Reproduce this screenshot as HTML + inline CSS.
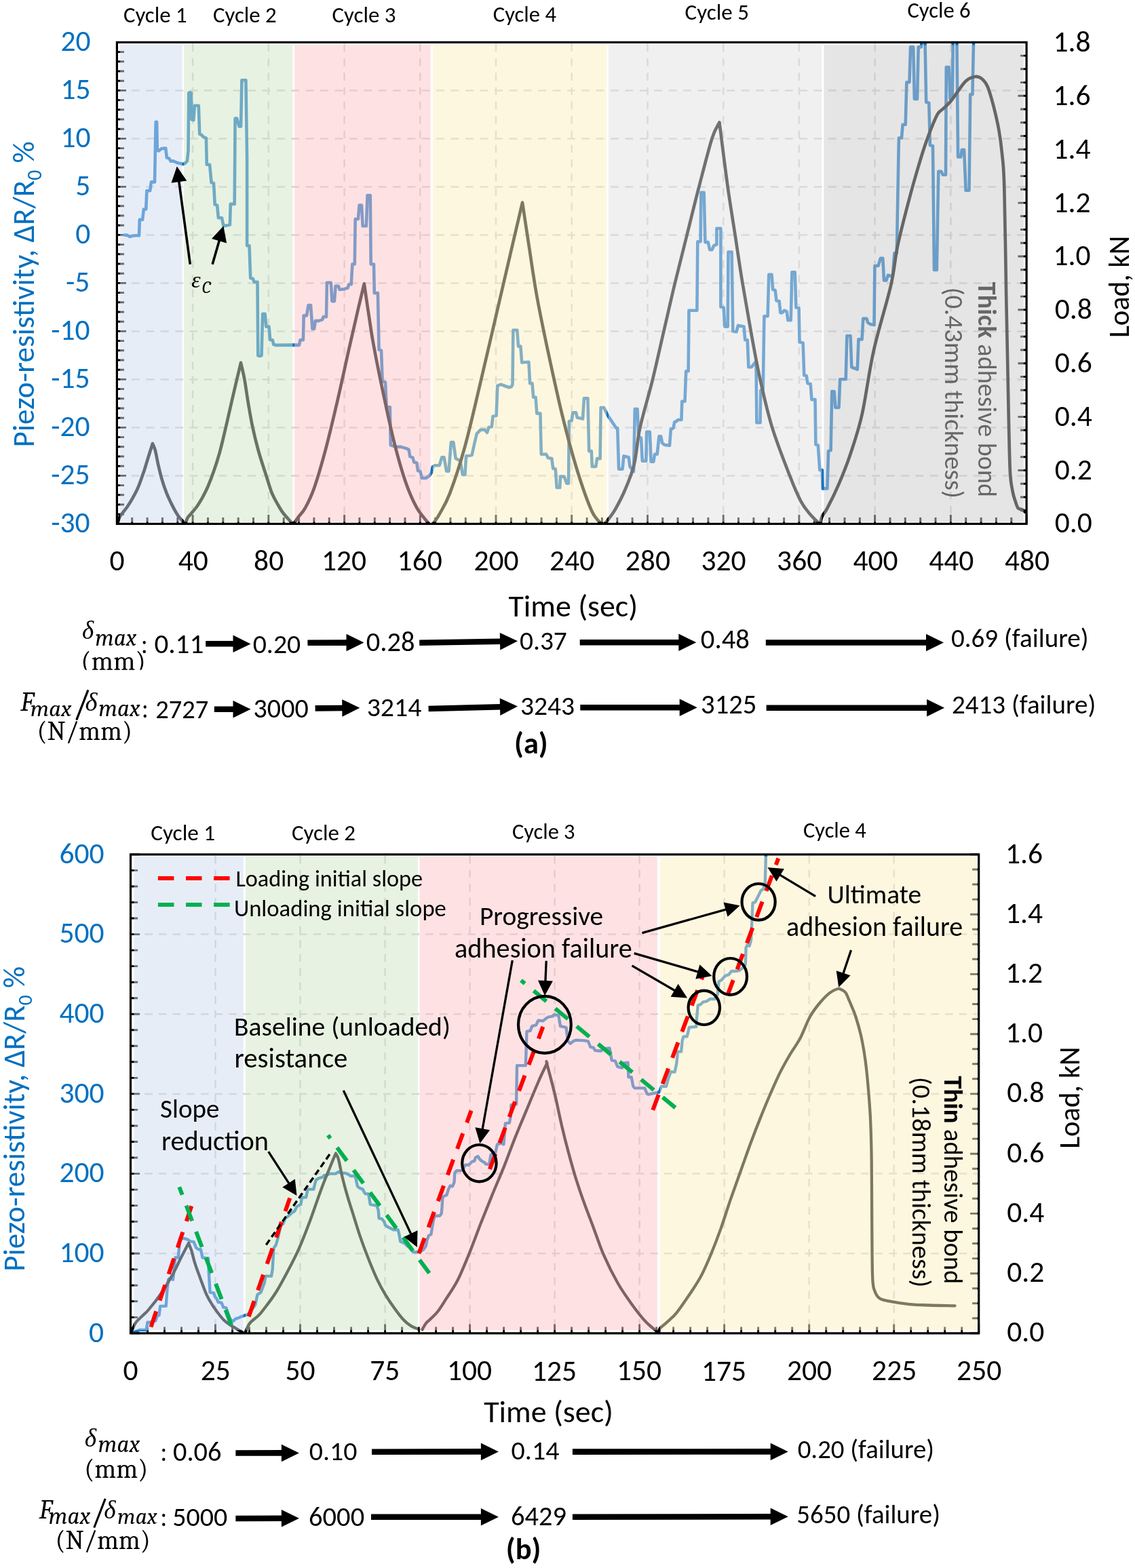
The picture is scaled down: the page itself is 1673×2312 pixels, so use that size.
<!DOCTYPE html>
<html><head><meta charset="utf-8"><title>Piezo-resistivity and load vs time</title>
<style>html,body{margin:0;padding:0;background:#fff;}svg{display:block;}</style></head>
<body>
<svg xmlns="http://www.w3.org/2000/svg" width="1673" height="2312" viewBox="0 0 1673 2312">
<rect width="1673" height="2312" fill="#fff"/>
<g id="chartA">
<clipPath id="clipA"><rect x="172.4" y="62.4" width="1340.7" height="710"/></clipPath>
<line x1="172.4" y1="133.4" x2="1513.1" y2="133.4" stroke="#D2D2D2" stroke-width="2.5" stroke-dasharray="12 9.4" stroke-dashoffset="0"/>
<line x1="172.4" y1="204.4" x2="1513.1" y2="204.4" stroke="#D2D2D2" stroke-width="2.5" stroke-dasharray="12 9.4" stroke-dashoffset="0"/>
<line x1="172.4" y1="275.4" x2="1513.1" y2="275.4" stroke="#D2D2D2" stroke-width="2.5" stroke-dasharray="12 9.4" stroke-dashoffset="0"/>
<line x1="172.4" y1="346.4" x2="1513.1" y2="346.4" stroke="#D2D2D2" stroke-width="2.5" stroke-dasharray="12 9.4" stroke-dashoffset="0"/>
<line x1="172.4" y1="417.4" x2="1513.1" y2="417.4" stroke="#D2D2D2" stroke-width="2.5" stroke-dasharray="12 9.4" stroke-dashoffset="0"/>
<line x1="172.4" y1="488.4" x2="1513.1" y2="488.4" stroke="#D2D2D2" stroke-width="2.5" stroke-dasharray="12 9.4" stroke-dashoffset="0"/>
<line x1="172.4" y1="559.4" x2="1513.1" y2="559.4" stroke="#D2D2D2" stroke-width="2.5" stroke-dasharray="12 9.4" stroke-dashoffset="0"/>
<line x1="172.4" y1="630.4" x2="1513.1" y2="630.4" stroke="#D2D2D2" stroke-width="2.5" stroke-dasharray="12 9.4" stroke-dashoffset="0"/>
<line x1="172.4" y1="701.4" x2="1513.1" y2="701.4" stroke="#D2D2D2" stroke-width="2.5" stroke-dasharray="12 9.4" stroke-dashoffset="0"/>
<line x1="284.1" y1="64.6" x2="284.1" y2="772.4" stroke="#D2D2D2" stroke-width="2.5" stroke-dasharray="11.5 9.8" stroke-dashoffset="0"/>
<line x1="395.8" y1="64.6" x2="395.8" y2="772.4" stroke="#D2D2D2" stroke-width="2.5" stroke-dasharray="11.5 9.8" stroke-dashoffset="0"/>
<line x1="507.6" y1="64.6" x2="507.6" y2="772.4" stroke="#D2D2D2" stroke-width="2.5" stroke-dasharray="11.5 9.8" stroke-dashoffset="0"/>
<line x1="619.3" y1="64.6" x2="619.3" y2="772.4" stroke="#D2D2D2" stroke-width="2.5" stroke-dasharray="11.5 9.8" stroke-dashoffset="0"/>
<line x1="731" y1="64.6" x2="731" y2="772.4" stroke="#D2D2D2" stroke-width="2.5" stroke-dasharray="11.5 9.8" stroke-dashoffset="0"/>
<line x1="842.7" y1="64.6" x2="842.7" y2="772.4" stroke="#D2D2D2" stroke-width="2.5" stroke-dasharray="11.5 9.8" stroke-dashoffset="0"/>
<line x1="954.5" y1="64.6" x2="954.5" y2="772.4" stroke="#D2D2D2" stroke-width="2.5" stroke-dasharray="11.5 9.8" stroke-dashoffset="0"/>
<line x1="1066.2" y1="64.6" x2="1066.2" y2="772.4" stroke="#D2D2D2" stroke-width="2.5" stroke-dasharray="11.5 9.8" stroke-dashoffset="0"/>
<line x1="1177.9" y1="64.6" x2="1177.9" y2="772.4" stroke="#D2D2D2" stroke-width="2.5" stroke-dasharray="11.5 9.8" stroke-dashoffset="0"/>
<line x1="1289.6" y1="64.6" x2="1289.6" y2="772.4" stroke="#D2D2D2" stroke-width="2.5" stroke-dasharray="11.5 9.8" stroke-dashoffset="0"/>
<line x1="1401.4" y1="64.6" x2="1401.4" y2="772.4" stroke="#D2D2D2" stroke-width="2.5" stroke-dasharray="11.5 9.8" stroke-dashoffset="0"/>
<path d="M172.4,62.4L186,62.4 M172.4,76.6L183,76.6 M172.4,90.8L183,90.8 M172.4,105L183,105 M172.4,119.2L183,119.2 M172.4,133.4L186,133.4 M172.4,147.6L183,147.6 M172.4,161.8L183,161.8 M172.4,176L183,176 M172.4,190.2L183,190.2 M172.4,204.4L186,204.4 M172.4,218.6L183,218.6 M172.4,232.8L183,232.8 M172.4,247L183,247 M172.4,261.2L183,261.2 M172.4,275.4L186,275.4 M172.4,289.6L183,289.6 M172.4,303.8L183,303.8 M172.4,318L183,318 M172.4,332.2L183,332.2 M172.4,346.4L186,346.4 M172.4,360.6L183,360.6 M172.4,374.8L183,374.8 M172.4,389L183,389 M172.4,403.2L183,403.2 M172.4,417.4L186,417.4 M172.4,431.6L183,431.6 M172.4,445.8L183,445.8 M172.4,460L183,460 M172.4,474.2L183,474.2 M172.4,488.4L186,488.4 M172.4,502.6L183,502.6 M172.4,516.8L183,516.8 M172.4,531L183,531 M172.4,545.2L183,545.2 M172.4,559.4L186,559.4 M172.4,573.6L183,573.6 M172.4,587.8L183,587.8 M172.4,602L183,602 M172.4,616.2L183,616.2 M172.4,630.4L186,630.4 M172.4,644.6L183,644.6 M172.4,658.8L183,658.8 M172.4,673L183,673 M172.4,687.2L183,687.2 M172.4,701.4L186,701.4 M172.4,715.6L183,715.6 M172.4,729.8L183,729.8 M172.4,744L183,744 M172.4,758.2L183,758.2 M172.4,772.4L186,772.4 M1513.1,772.4L1500.5,772.4 M1513.1,752.7L1504,752.7 M1513.1,733L1504,733 M1513.1,713.2L1504,713.2 M1513.1,693.5L1500.5,693.5 M1513.1,673.8L1504,673.8 M1513.1,654.1L1504,654.1 M1513.1,634.3L1504,634.3 M1513.1,614.6L1500.5,614.6 M1513.1,594.9L1504,594.9 M1513.1,575.2L1504,575.2 M1513.1,555.5L1504,555.5 M1513.1,535.7L1500.5,535.7 M1513.1,516L1504,516 M1513.1,496.3L1504,496.3 M1513.1,476.6L1504,476.6 M1513.1,456.8L1500.5,456.8 M1513.1,437.1L1504,437.1 M1513.1,417.4L1504,417.4 M1513.1,397.7L1504,397.7 M1513.1,378L1500.5,378 M1513.1,358.2L1504,358.2 M1513.1,338.5L1504,338.5 M1513.1,318.8L1504,318.8 M1513.1,299.1L1500.5,299.1 M1513.1,279.3L1504,279.3 M1513.1,259.6L1504,259.6 M1513.1,239.9L1504,239.9 M1513.1,220.2L1500.5,220.2 M1513.1,200.5L1504,200.5 M1513.1,180.7L1504,180.7 M1513.1,161L1504,161 M1513.1,141.3L1500.5,141.3 M1513.1,121.6L1504,121.6 M1513.1,101.8L1504,101.8 M1513.1,82.1L1504,82.1 M1513.1,62.4L1500.5,62.4 M172.4,772.4L172.4,759 M194.7,772.4L194.7,763 M217.1,772.4L217.1,763 M239.4,772.4L239.4,763 M261.8,772.4L261.8,763 M284.1,772.4L284.1,759 M306.5,772.4L306.5,763 M328.8,772.4L328.8,763 M351.2,772.4L351.2,763 M373.5,772.4L373.5,763 M395.8,772.4L395.8,759 M418.2,772.4L418.2,763 M440.5,772.4L440.5,763 M462.9,772.4L462.9,763 M485.2,772.4L485.2,763 M507.6,772.4L507.6,759 M529.9,772.4L529.9,763 M552.3,772.4L552.3,763 M574.6,772.4L574.6,763 M597,772.4L597,763 M619.3,772.4L619.3,759 M641.6,772.4L641.6,763 M664,772.4L664,763 M686.3,772.4L686.3,763 M708.7,772.4L708.7,763 M731,772.4L731,759 M753.4,772.4L753.4,763 M775.7,772.4L775.7,763 M798.1,772.4L798.1,763 M820.4,772.4L820.4,763 M842.7,772.4L842.7,759 M865.1,772.4L865.1,763 M887.4,772.4L887.4,763 M909.8,772.4L909.8,763 M932.1,772.4L932.1,763 M954.5,772.4L954.5,759 M976.8,772.4L976.8,763 M999.2,772.4L999.2,763 M1021.5,772.4L1021.5,763 M1043.9,772.4L1043.9,763 M1066.2,772.4L1066.2,759 M1088.5,772.4L1088.5,763 M1110.9,772.4L1110.9,763 M1133.2,772.4L1133.2,763 M1155.6,772.4L1155.6,763 M1177.9,772.4L1177.9,759 M1200.3,772.4L1200.3,763 M1222.6,772.4L1222.6,763 M1245,772.4L1245,763 M1267.3,772.4L1267.3,763 M1289.6,772.4L1289.6,759 M1312,772.4L1312,763 M1334.3,772.4L1334.3,763 M1356.7,772.4L1356.7,763 M1379,772.4L1379,763 M1401.4,772.4L1401.4,759 M1423.7,772.4L1423.7,763 M1446.1,772.4L1446.1,763 M1468.4,772.4L1468.4,763 M1490.8,772.4L1490.8,763 M1513.1,772.4L1513.1,759" stroke="#000" stroke-width="2.9" fill="none"/>
<g clip-path="url(#clipA)">
<polyline points="183.6,346.6 187.1,346.6 191.3,349 195.6,347.8 199.9,347.3 205,347.3 205.8,323.9 210.1,323.9 211.8,308.5 215.2,308.5 216.4,281.2 221.2,281.2 222.9,268.4 228,268.4 228.9,220.7 229.7,179.7 231.1,179.7 231.8,220.7 234,222.4 238.2,219 244.2,218.6 245.9,232.6 249.3,233.5 251.6,237.7 255.3,237.4 262.1,240.3 269.8,242 272.4,241.1 275.8,237.7 277.5,222.4 278.3,137.1 280,136.2 281.8,137.1 282.6,176.3 285.2,177.2 286.9,155.8 292.8,155.8 294.2,197.6 297.1,198.8 299.7,201.9 303.9,203.6 304.8,242.8 309.1,242.8 311.6,269.3 315,270.1 316.7,301.7 320.1,302.6 321.9,321.3 327,321.3 329.5,333.3 333.8,332.4 338.9,331.6 339.8,300.9 345.7,300.9 346.6,174.6 349.2,174.6 352.6,186.5 355.1,186.5 356.4,118.3 362.4,118.3 364.1,232.6 364.1,362.2 367.5,362.2 369.2,410 372.7,410.8 374.7,415.9 379.5,415.9 380.3,524.3 382.9,525.1 385.5,524.3 387.2,462.8 390.6,462.8 392.3,481.6 396.5,481.6 398.2,501.2 401.7,501.2 403.4,508.1 406.8,508.9 432.4,508.6 440.9,508.9 442.6,501.2 446.9,501.2 447.7,465.4 452,465.4 454.6,450 458,450 460.5,485 463.1,485 464.8,473.1 469.9,473.1 475,471.4 476.7,467.1 481,467.1 481.9,416.8 487.8,416.8 489.5,444.1 492.9,444.1 494.6,421.9 498.9,421.9 500.6,427 507.4,426.2 512.6,424.5 514.3,419.3 517.7,419.3 519.4,389.5 522.8,389.5 523.7,323 527.9,323 529.6,302.6 533,302.6 534.7,333.3 539.9,333.3 541.6,288.1 545.8,288.1 546.7,389.5 551,389.5 551.8,432.1 556.9,432.1 558.6,515.7 562,516.6 563.7,562.7 568,563.5 569.7,600.2 574.8,600.2 575.8,656.4 580.8,658.1 585,658.9 590.9,658.9 599.3,661.4 602.6,663.1 604.3,673.2 608.5,674.8 610.2,681.5 614.3,682.4 616,694.1 619.4,695 621.9,705 627.8,705 632.8,701.7 636.1,696.6 637.8,688.3 641,686.2 647.8,686.2 651.2,674.3 654.6,674.3 658.1,694.7 661.5,694.7 664.9,652.1 668.3,652.1 671.7,676 678.5,679.4 681.9,699.9 685.4,699.9 687.1,672.6 695.6,670.9 699,655.5 702.6,639.9 707.7,634.3 709.4,633.5 714.6,633.8 718,637.7 720.5,630.1 724.8,629.2 726.5,613.8 731.6,613 733.3,568.6 738.4,566.9 745.3,569.5 750.4,571.2 753.8,570.3 755.5,566.9 756.4,486.7 762.3,486.7 764,510.6 767.4,510.6 769.2,534.5 779.4,533.7 781.1,565.2 784.5,565.2 786.2,585.7 789.6,585.7 791.3,609.6 796.4,609.6 797.8,669.7 805.1,669.7 807.9,675.2 813.3,676.1 815.2,690.7 818.8,691.6 820.7,719 825.2,719 826.1,702.6 831.6,702.6 835.3,712.7 838,712.7 838.9,621.2 842.6,620.3 844.4,608.4 849,608.4 850.8,615.8 859,617.6 860.9,587.4 866.4,587.4 868.2,665.1 871.8,665.1 872.8,688 878.2,688 880.1,676.1 884.6,676.1 885.6,601.1 890.1,601.1 895.6,612.1 908.4,631.3 910.2,631.3 912.1,691.6 917.6,691.6 919.4,672.4 926.7,674.3 928.5,688 934,695.3 935.8,603 939.5,603 941.3,644.1 945,645.9 946.8,679.7 952.3,679.7 953.2,636.8 957.8,636.8 959.6,680.7 963.3,680.7 965.1,669.7 968.7,669.7 971.5,643.2 974.2,643.2 976.1,653.2 979.7,656 987,656.9 988.8,633.1 992.5,631.3 994.3,622.2 996.7,621.5 999.3,619 1004.4,619 1005.3,591.7 1009.5,591.7 1011.2,547.3 1014.6,547.3 1015.5,457.7 1027.4,457.7 1028.3,356.2 1032.6,356.2 1033.4,283.8 1037.7,283.8 1039.4,355.5 1039.4,357.1 1043.7,357.1 1046.2,368.2 1049.6,368.2 1052.2,362.2 1056.4,360.5 1056.4,336.7 1062.4,336.7 1062.4,452.6 1066.7,453.5 1068.4,481.6 1072.7,481.6 1073.5,371.6 1078.6,371.6 1080.3,488.4 1085.5,489.3 1088,479.9 1092.3,480.8 1096.5,481.6 1098.3,501.2 1101.7,501.2 1103.4,541.3 1107.6,541.3 1114.5,532.8 1115.4,623.2 1120.5,623.2 1121.3,575.5 1124.7,575.5 1126.4,466.3 1131.6,466.3 1133.3,404.8 1137.5,404.8 1139.2,427 1142.7,427.9 1144.4,443.2 1148.6,444.1 1150.3,461.1 1152.9,461.1 1156.3,457.7 1159.7,459.4 1161.4,472.2 1165.7,472.2 1167.4,401.4 1171.7,401.4 1173.4,453.5 1177.6,454.3 1178.5,504.6 1183.6,505.5 1185.3,553.3 1188.7,554.1 1190.4,565.2 1194.7,566.1 1196.4,589.1 1201.5,589.1 1202.4,655.5 1205.8,656.4 1208.3,693.1 1211.8,693.1 1212.6,720.4 1219.4,720.4 1221.1,664.9 1224.6,664.1 1226.3,577.1 1229.7,577.2 1231.4,601 1236.5,601 1238.2,559.2 1246.7,559.2 1248.4,495.3 1253.6,495.3 1255.3,541.3 1259.5,543 1263.8,544.7 1265.5,500.4 1270.6,500.4 1272.3,469.7 1277.4,469.7 1279.2,475.6 1283.4,478.2 1288.5,479.1 1289.4,392 1294.5,392 1297.9,380.9 1301.3,380.9 1303,413.4 1306.4,413.4 1309,405.7 1315.8,407.4 1318.4,373.3 1321.8,373.3 1324.9,203.5 1329,203.5 1330.6,183.8 1334.7,183.8 1336.4,121.2 1340.5,121.2 1342.1,69.4 1346.2,69.4 1347.9,145.9 1352,145.9 1353.7,69.4 1357.8,69.4 1358.6,60.4 1363.5,60.4 1365.2,150.8 1369.3,151.7 1370.9,214.2 1375,215 1377,398 1380.8,398 1383.3,252.9 1387.4,252.9 1389.8,257.8 1394,257.8 1394.8,99 1398.9,99 1400.5,145.9 1403.8,145.9 1404.7,60.4 1410.4,60.4 1412.1,231.5 1416.2,231.5 1417.8,220.8 1421.1,220.8 1423.6,280.8 1428.5,280.8 1430.2,139.3 1433.4,139.3 1435.1,60.4" fill="none" stroke="#0A6FC2" stroke-width="4.6" stroke-linejoin="round" stroke-linecap="round"/>
<path d="M173.4,771 C174,769.4 174.5,765.5 176.8,761.6 C179.1,757.8 183.9,752.5 187.1,748 C190.2,743.4 192.7,739.4 195.6,734.3 C198.4,729.2 201.3,724.1 204.1,717.3 C207,710.4 210.1,701 212.7,693.4 C215.2,685.7 217.4,677.7 219.5,671.2 C221.5,664.6 224,657 224.9,654.1 M224.9,654.1 C225.6,655.8 227.5,659.2 228.9,664.4 C230.2,669.5 231.6,678 233.1,684.8 C234.7,691.7 236.3,698.5 238.2,705.3 C240.2,712.1 242.5,719.2 245.1,725.8 C247.6,732.3 250.8,738.9 253.6,744.6 C256.4,750.2 259.3,755.6 262.1,759.9 C265,764.2 269.2,768.4 270.7,770.1" fill="none" stroke="#000" stroke-width="4.7" stroke-linejoin="round" stroke-linecap="round"/>
<path d="M273.2,771.9 C273.8,770.4 275.4,765.6 276.6,763.3 C277.9,761 278.8,760.8 280.9,758.2 C283,755.6 286.6,751.9 289.4,748 C292.3,744 295.1,739.4 298,734.3 C300.8,729.2 303.7,723.8 306.5,717.3 C309.3,710.7 312.2,703.3 315,695.1 C317.9,686.8 321,676.9 323.6,667.8 C326.1,658.7 327.3,653.4 330.4,640.5 C333.5,627.5 338.9,603.4 342,590 C345.1,576.6 346.8,569.2 349,560 C351.2,550.8 354,539.2 355,535 M355,535 C355.9,539.1 358.6,549.4 360.4,559.4 C362.2,569.4 364,583.2 366,595 C368,606.8 369.9,618.4 372.4,630.1 C374.9,641.8 377.7,653.1 381,665 C384.3,676.9 389.2,691.2 392.4,701.3 C395.6,711.4 397.6,718.9 400.3,725.8 C403.1,732.7 406,737.7 408.9,742.8 C411.8,747.9 413.8,751.8 417.4,756.5 C420.9,761.2 428.1,768.6 430.2,771" fill="none" stroke="#000" stroke-width="4.7" stroke-linejoin="round" stroke-linecap="round"/>
<path d="M432.5,772.9 C433.8,771.1 437.1,766 440.1,762 C443,757.9 446.2,755.8 450.1,748.6 C454,741.3 458.5,732.9 463.5,718.4 C468.5,703.9 474.7,682.4 480.3,661.4 C485.9,640.5 491.4,616.7 497,592.7 C502.6,568.7 508.8,539.7 513.8,517.3 C518.8,495 523.4,475.1 527.2,458.7 C531,442.2 535.2,425.1 536.8,418.4 M536.8,418.4 C538,426.5 541.6,452 544,467 C546.3,482.1 547.3,490.8 550.7,508.9 C554,527.1 559,552.2 564.1,576 C569.1,599.7 575.2,629 580.8,651.4 C586.4,673.7 592,693.8 597.6,710 C603.2,726.2 608.5,738.1 614.3,748.6 C620.2,759.1 629.7,768.8 632.8,772.9" fill="none" stroke="#000" stroke-width="4.7" stroke-linejoin="round" stroke-linecap="round"/>
<path d="M636.6,774.8 C638.4,772.1 643.2,766.2 647.6,758.3 C652,750.4 656.8,744 663.1,727.4 C669.3,710.9 677.8,685.6 685.1,659.1 C692.4,632.7 699.8,599.6 707.1,568.7 C714.5,537.9 721.8,505.6 729.2,474 C736.5,442.4 744.4,408.4 751.2,379.2 C758,350 766.8,312.1 770,298.7 M770,298.7 C771.6,309.6 776.4,341.2 779.9,363.8 C783.4,386.3 786.5,409.7 790.9,434.3 C795.3,458.9 800.1,482 806.3,511.4 C812.6,540.8 821,580.5 828.4,610.6 C835.7,640.7 843.1,668.3 850.4,692.2 C857.8,716 866,740.1 872.5,753.9 C878.9,767.7 886.2,771.3 889,774.8" fill="none" stroke="#000" stroke-width="4.7" stroke-linejoin="round" stroke-linecap="round"/>
<path d="M890.9,772.4 C892.1,771 895.3,767.7 898,764 C900.7,760.3 903.5,757.1 907.3,750.3 C911.1,743.5 916.4,733.9 921,723 C925.6,712.1 931,700.1 934.7,684.7 C938.4,669.3 938.9,651.5 943.4,630.6 C947.9,609.8 956.2,583.3 962,559.6 C967.8,535.9 972.9,512.1 978.4,488.5 C983.9,464.9 989.1,441.3 994.8,417.7 C1000.5,394.1 1006.6,370.4 1012.5,346.7 C1018.4,323 1024.1,299.3 1030.3,275.6 C1036.5,251.9 1044.4,220.3 1049.4,204.5 C1054.4,188.7 1058.6,184.5 1060.4,180.5 M1060.4,180.5 C1062.5,196.3 1068.8,247.9 1072.7,275.6 C1076.6,303.3 1080,323 1083.6,346.7 C1087.2,370.4 1090.6,394.1 1094.5,417.7 C1098.4,441.3 1102.5,464.9 1106.8,488.5 C1111.1,512.1 1115.2,535.9 1120.5,559.6 C1125.8,583.3 1131,606.9 1138.3,630.6 C1145.6,654.3 1157.2,683.6 1164.2,701.7 C1171.2,719.8 1175.6,729.9 1180.6,739.4 C1185.6,748.9 1189.7,753 1194.3,758.5 C1198.9,764 1205.7,770.1 1208,772.4" fill="none" stroke="#000" stroke-width="4.7" stroke-linejoin="round" stroke-linecap="round"/>
<path d="M1209.2,772.4 C1209.6,770.6 1210,765.2 1211.8,761.3 C1213.5,757.5 1215.3,757.3 1219.4,749.4 C1223.6,741.4 1230.8,726.9 1236.5,713.6 C1242.2,700.2 1247.9,686.3 1253.6,669.2 C1259.2,652.1 1264.9,636.5 1270.6,611.2 C1276.3,585.9 1280.6,549.3 1287.7,517.4 C1294.8,485.6 1307.4,446.1 1313.3,420.2 C1319.2,394.3 1318.7,383.2 1323.2,361.9 C1327.8,340.6 1334.9,313.5 1340.5,292.3 C1346.1,271.1 1352.3,250.1 1356.9,234.8 C1361.6,219.4 1364.3,211.2 1368.5,200.2 C1372.6,189.2 1378.1,175.5 1381.6,168.9 C1385.2,162.4 1386.6,164 1389.8,160.7 C1393.1,157.4 1397.3,154.1 1401.4,149.2 C1405.5,144.3 1410.7,136.2 1414.5,131.1 C1418.4,126 1420.6,121.8 1424.4,118.8 C1428.2,115.7 1433.7,113.4 1437.6,113 C1441.4,112.6 1444.4,113.8 1447.4,116.3 C1450.4,118.8 1452.9,121.5 1455.7,127.8 C1458.4,134.1 1461.1,143.7 1463.9,154.1 C1466.6,164.6 1469.9,178.3 1472.1,190.3 C1474.3,202.4 1475.7,212.3 1477,226.5 C1478.4,240.8 1479.3,240.8 1480.3,275.9 C1481.4,311 1482.4,394 1483.2,437 C1484.1,480 1484.5,501.7 1485.2,534 C1485.8,566.3 1486.5,603.5 1487.1,631 C1487.8,658.5 1488.1,683 1489.1,698.9 C1490,714.7 1491.7,719.2 1492.9,726 C1494.2,732.8 1495.5,735.7 1496.8,739.6 C1498.1,743.5 1499.1,747.4 1500.7,749.3 C1502.3,751.3 1504.7,750.3 1506.5,751.3 C1508.3,752.2 1510.6,754.5 1511.4,755.1" fill="none" stroke="#000" stroke-width="4.7" stroke-linejoin="round" stroke-linecap="round"/>
</g>
<text x="1441.8" y="415.8" font-family="Carlito, 'Liberation Sans', sans-serif" font-size="38.13" fill="#000" transform="rotate(90 1441.8 415.8)"><tspan font-weight="700">Thick</tspan> adhesive bond</text>
<text x="1393.3" y="423.8" font-family="Carlito, 'Liberation Sans', sans-serif" font-size="38.99" fill="#000" transform="rotate(90 1393.3 423.8)">(0.43mm thickness)</text>
<rect x="177.1" y="66.5" width="91.4" height="703" fill="#CFDBEF" fill-opacity="0.5"/>
<rect x="271.1" y="66.5" width="160.3" height="703" fill="#D1E5C5" fill-opacity="0.5"/>
<rect x="434.1" y="66.5" width="200.7" height="703" fill="#FDC5C7" fill-opacity="0.5"/>
<rect x="637.9" y="66.5" width="256.3" height="703" fill="#FDEFC1" fill-opacity="0.5"/>
<rect x="896.9" y="66.5" width="314.4" height="703" fill="#E1E1E1" fill-opacity="0.5"/>
<rect x="1214.4" y="66.5" width="294.4" height="703" fill="#CBCBCB" fill-opacity="0.5"/>
<rect x="172.4" y="62.4" width="1340.7" height="710" fill="none" stroke="#000" stroke-width="3.2"/>
<line x1="280.3" y1="389.7" x2="263.6" y2="266.1" stroke="#000" stroke-width="3.6"/><polygon points="260.8,245.3 275.3,266.6 252.5,269.6" fill="#000"/>
<line x1="313.1" y1="389.7" x2="323.6" y2="353.4" stroke="#000" stroke-width="3.6"/><polygon points="329.4,333.2 334.1,358.5 312,352.1" fill="#000"/>
</g>
<g id="chartB">
<clipPath id="clipB"><rect x="192.5" y="1259.9" width="1250.2" height="706"/></clipPath>
<line x1="192.5" y1="1848.2" x2="1442.7" y2="1848.2" stroke="#D2D2D2" stroke-width="2.5" stroke-dasharray="11.5 9.2" stroke-dashoffset="0"/>
<line x1="192.5" y1="1730.6" x2="1442.7" y2="1730.6" stroke="#D2D2D2" stroke-width="2.5" stroke-dasharray="11.5 9.2" stroke-dashoffset="0"/>
<line x1="192.5" y1="1612.9" x2="1442.7" y2="1612.9" stroke="#D2D2D2" stroke-width="2.5" stroke-dasharray="11.5 9.2" stroke-dashoffset="0"/>
<line x1="192.5" y1="1495.2" x2="1442.7" y2="1495.2" stroke="#D2D2D2" stroke-width="2.5" stroke-dasharray="11.5 9.2" stroke-dashoffset="0"/>
<line x1="192.5" y1="1377.6" x2="1442.7" y2="1377.6" stroke="#D2D2D2" stroke-width="2.5" stroke-dasharray="11.5 9.2" stroke-dashoffset="0"/>
<line x1="317.5" y1="1261.9" x2="317.5" y2="1965.9" stroke="#D2D2D2" stroke-width="2.5" stroke-dasharray="11.5 9.2" stroke-dashoffset="0"/>
<line x1="442.5" y1="1261.9" x2="442.5" y2="1965.9" stroke="#D2D2D2" stroke-width="2.5" stroke-dasharray="11.5 9.2" stroke-dashoffset="0"/>
<line x1="567.6" y1="1261.9" x2="567.6" y2="1965.9" stroke="#D2D2D2" stroke-width="2.5" stroke-dasharray="11.5 9.2" stroke-dashoffset="0"/>
<line x1="692.6" y1="1261.9" x2="692.6" y2="1965.9" stroke="#D2D2D2" stroke-width="2.5" stroke-dasharray="11.5 9.2" stroke-dashoffset="0"/>
<line x1="817.6" y1="1261.9" x2="817.6" y2="1965.9" stroke="#D2D2D2" stroke-width="2.5" stroke-dasharray="11.5 9.2" stroke-dashoffset="0"/>
<line x1="942.6" y1="1261.9" x2="942.6" y2="1965.9" stroke="#D2D2D2" stroke-width="2.5" stroke-dasharray="11.5 9.2" stroke-dashoffset="0"/>
<line x1="1067.6" y1="1261.9" x2="1067.6" y2="1965.9" stroke="#D2D2D2" stroke-width="2.5" stroke-dasharray="11.5 9.2" stroke-dashoffset="0"/>
<line x1="1192.7" y1="1261.9" x2="1192.7" y2="1965.9" stroke="#D2D2D2" stroke-width="2.5" stroke-dasharray="11.5 9.2" stroke-dashoffset="0"/>
<line x1="1317.7" y1="1261.9" x2="1317.7" y2="1965.9" stroke="#D2D2D2" stroke-width="2.5" stroke-dasharray="11.5 9.2" stroke-dashoffset="0"/>
<path d="M192.5,1965.9L206.1,1965.9 M192.5,1942.4L203.1,1942.4 M192.5,1918.8L203.1,1918.8 M192.5,1895.3L203.1,1895.3 M192.5,1871.8L203.1,1871.8 M192.5,1848.2L206.1,1848.2 M192.5,1824.7L203.1,1824.7 M192.5,1801.2L203.1,1801.2 M192.5,1777.6L203.1,1777.6 M192.5,1754.1L203.1,1754.1 M192.5,1730.6L206.1,1730.6 M192.5,1707L203.1,1707 M192.5,1683.5L203.1,1683.5 M192.5,1660L203.1,1660 M192.5,1636.4L203.1,1636.4 M192.5,1612.9L206.1,1612.9 M192.5,1589.4L203.1,1589.4 M192.5,1565.8L203.1,1565.8 M192.5,1542.3L203.1,1542.3 M192.5,1518.8L203.1,1518.8 M192.5,1495.2L206.1,1495.2 M192.5,1471.7L203.1,1471.7 M192.5,1448.2L203.1,1448.2 M192.5,1424.6L203.1,1424.6 M192.5,1401.1L203.1,1401.1 M192.5,1377.6L206.1,1377.6 M192.5,1354L203.1,1354 M192.5,1330.5L203.1,1330.5 M192.5,1307L203.1,1307 M192.5,1283.4L203.1,1283.4 M192.5,1259.9L206.1,1259.9 M1442.7,1965.9L1430.1,1965.9 M1442.7,1943.8L1433.1,1943.8 M1442.7,1921.8L1433.1,1921.8 M1442.7,1899.7L1433.1,1899.7 M1442.7,1877.7L1430.1,1877.7 M1442.7,1855.6L1433.1,1855.6 M1442.7,1833.5L1433.1,1833.5 M1442.7,1811.5L1433.1,1811.5 M1442.7,1789.4L1430.1,1789.4 M1442.7,1767.3L1433.1,1767.3 M1442.7,1745.3L1433.1,1745.3 M1442.7,1723.2L1433.1,1723.2 M1442.7,1701.2L1430.1,1701.2 M1442.7,1679.1L1433.1,1679.1 M1442.7,1657L1433.1,1657 M1442.7,1635L1433.1,1635 M1442.7,1612.9L1430.1,1612.9 M1442.7,1590.8L1433.1,1590.8 M1442.7,1568.8L1433.1,1568.8 M1442.7,1546.7L1433.1,1546.7 M1442.7,1524.7L1430.1,1524.7 M1442.7,1502.6L1433.1,1502.6 M1442.7,1480.5L1433.1,1480.5 M1442.7,1458.5L1433.1,1458.5 M1442.7,1436.4L1430.1,1436.4 M1442.7,1414.3L1433.1,1414.3 M1442.7,1392.3L1433.1,1392.3 M1442.7,1370.2L1433.1,1370.2 M1442.7,1348.2L1430.1,1348.2 M1442.7,1326.1L1433.1,1326.1 M1442.7,1304L1433.1,1304 M1442.7,1282L1433.1,1282 M1442.7,1259.9L1430.1,1259.9 M192.5,1965.9L192.5,1952.5 M217.5,1965.9L217.5,1956.5 M242.5,1965.9L242.5,1956.5 M267.5,1965.9L267.5,1956.5 M292.5,1965.9L292.5,1956.5 M317.5,1965.9L317.5,1952.5 M342.5,1965.9L342.5,1956.5 M367.5,1965.9L367.5,1956.5 M392.5,1965.9L392.5,1956.5 M417.5,1965.9L417.5,1956.5 M442.5,1965.9L442.5,1952.5 M467.5,1965.9L467.5,1956.5 M492.5,1965.9L492.5,1956.5 M517.6,1965.9L517.6,1956.5 M542.6,1965.9L542.6,1956.5 M567.6,1965.9L567.6,1952.5 M592.6,1965.9L592.6,1956.5 M617.6,1965.9L617.6,1956.5 M642.6,1965.9L642.6,1956.5 M667.6,1965.9L667.6,1956.5 M692.6,1965.9L692.6,1952.5 M717.6,1965.9L717.6,1956.5 M742.6,1965.9L742.6,1956.5 M767.6,1965.9L767.6,1956.5 M792.6,1965.9L792.6,1956.5 M817.6,1965.9L817.6,1952.5 M842.6,1965.9L842.6,1956.5 M867.6,1965.9L867.6,1956.5 M892.6,1965.9L892.6,1956.5 M917.6,1965.9L917.6,1956.5 M942.6,1965.9L942.6,1952.5 M967.6,1965.9L967.6,1956.5 M992.6,1965.9L992.6,1956.5 M1017.6,1965.9L1017.6,1956.5 M1042.6,1965.9L1042.6,1956.5 M1067.6,1965.9L1067.6,1952.5 M1092.6,1965.9L1092.6,1956.5 M1117.6,1965.9L1117.6,1956.5 M1142.7,1965.9L1142.7,1956.5 M1167.7,1965.9L1167.7,1956.5 M1192.7,1965.9L1192.7,1952.5 M1217.7,1965.9L1217.7,1956.5 M1242.7,1965.9L1242.7,1956.5 M1267.7,1965.9L1267.7,1956.5 M1292.7,1965.9L1292.7,1956.5 M1317.7,1965.9L1317.7,1952.5 M1342.7,1965.9L1342.7,1956.5 M1367.7,1965.9L1367.7,1956.5 M1392.7,1965.9L1392.7,1956.5 M1417.7,1965.9L1417.7,1956.5 M1442.7,1965.9L1442.7,1952.5" stroke="#000" stroke-width="2.9" fill="none"/>
<g clip-path="url(#clipB)">
<polyline points="191.8,1966 195.2,1965.2 202.1,1962.6 205.5,1960.9 215.7,1960.9 217.4,1949.8 220.8,1949.8 229.4,1947.3 231.9,1939.6 234.5,1939.6 236.2,1925.9 244.7,1925.9 246.4,1902 248.1,1886.7 249.8,1885 255,1886.7 256.7,1871.3 258.4,1854.3 262.6,1854.3 264.3,1838.1 265.2,1826.1 272,1826.1 277.1,1827.8 280.5,1830.4 285.7,1831.2 289.1,1839.8 292.5,1842.3 295.9,1842.3 298.5,1854.3 304.4,1855.1 307,1855.1 307.8,1876.4 309.6,1905.5 314.7,1906.3 317.2,1912.3 319.8,1915.7 321.5,1920 326.6,1920.8 329.2,1927.6 333.4,1928.5 335.1,1933.6 338.6,1943 340.3,1946.4 343.7,1948.1 347.1,1944.7 352.2,1943 355.6,1941.3 360.7,1939.6 365.9,1937.9 376.1,1924.2 379.5,1908.9 384.6,1905.5 389.7,1891.8 391.4,1881.6 400,1881.6 401.7,1871.3 403.4,1840.6 406.8,1835.5 410.2,1823.6 413.6,1806.5 417,1804.8 420.5,1796.3 425.6,1792.8 430.7,1787.7 434.1,1786 437.5,1779.2 443.4,1775.8 445.1,1765.5 451.1,1765.5 453.6,1753.6 462.2,1753.6 465.6,1740 469.9,1737.4 475.8,1735.7 477.5,1733.1 482.7,1732.3 486.1,1730.6 494.6,1730.6 498.9,1728 503.1,1729.7 508.2,1729.7 513.4,1731.4 516.8,1734 523.6,1734 525.3,1741.7 527,1749.3 530.4,1751.9 534.7,1753.6 537.3,1758.7 539,1760.4 543.2,1760.4 545.8,1775.8 549.2,1776.6 555.2,1777.5 557.7,1784.3 558.6,1796.3 562.8,1797.1 566.3,1801.4 568,1806.5 571.4,1809.1 576.5,1811.6 579.9,1813.3 586.7,1813.3 588.4,1820.1 590.1,1830.4 593.6,1832.1 597,1833.8 600.4,1837.2 603.8,1839.8 608.9,1845.7 612.3,1846.6 615.7,1845.7 619.2,1845.7 624.3,1842.3 627.7,1837.2 629.4,1828.7 631.9,1821.9 635.4,1820.1 636.2,1815 637.9,1804.8 639.6,1796.3 641.3,1792.8 648.2,1792.8 650.7,1789.4 651.6,1779.2 652.4,1765.5 655.8,1763 658.4,1762.1 661,1753.6 663.5,1748.5 666.9,1749.3 669.5,1743.4 670.3,1729.7 672.9,1726.3 678.9,1726.3 682.3,1724.6 685.7,1717.8 690.8,1717.8 695.9,1712.7 699.3,1711.8 701,1706.7 704.5,1705 707,1709.2 711.3,1712.7 714.7,1714.4 715.9,1716.3 721,1717.2 723.6,1702.7 730.4,1699.2 733,1687.3 739,1685.6 742.4,1687.3 744.9,1656.4 750.9,1655.6 752.6,1646.2 753.5,1629.1 761.1,1628.3 762,1571.1 774.8,1571.1 776.5,1520.8 781.6,1519.9 784.2,1513.1 790.1,1511.4 793.6,1504.6 800.4,1505.4 805.5,1501.1 808.9,1499.4 814,1498.6 817.4,1496 823.4,1497.7 826,1513.1 834.5,1514.8 837.1,1535.3 840.5,1538.7 846.4,1534.4 849.9,1533.6 861.8,1534.4 866.9,1535.3 870.3,1543.8 874.6,1544.6 877.2,1548.9 885.7,1549.8 889.1,1546.4 898.5,1545.5 901.7,1563.4 906.8,1564.3 910.2,1572.8 917.1,1574.5 918.8,1567.7 925.6,1566.8 926.4,1588.2 930.7,1588.2 933.3,1601.8 935.8,1604.4 950.3,1604.4 953.7,1612.9 956.3,1613.7 968.2,1611.2 971.7,1610.3 975.1,1601.8 981.9,1601.8 985.3,1589.9 988.7,1580.5 994.7,1580.5 997.3,1567.7 999,1550.6 1004.1,1550.6 1005.8,1533.6 1007.5,1528.4 1012.6,1528.4 1016,1514.8 1026.3,1513.9 1027.1,1499.4 1028.8,1482.4 1033.1,1480.7 1036.5,1477.3 1041.6,1476.4 1046.7,1473 1053.6,1473 1057.8,1466.2 1059.5,1447.4 1063.8,1444.8 1068.9,1438.9 1074,1437.2 1078.3,1432 1084.3,1432 1089.4,1431.2 1096.2,1426.1 1098.8,1421.8 1099.6,1397.1 1101.3,1393.6 1104.6,1394.8 1107,1386.3 1108.3,1359.4 1109.5,1331.4 1113.1,1330.2 1118,1320.4 1121.7,1313.1 1125.3,1310.7 1127.8,1300.9 1129,1258" fill="none" stroke="#0A6FC2" stroke-width="4.4" stroke-linejoin="round" stroke-linecap="round"/>
<path d="M191.8,1966 C192.4,1965 193.8,1962.8 195.2,1960.1 C196.7,1957.4 197.8,1953.2 200.4,1949.8 C202.9,1946.4 207.5,1942.7 210.6,1939.6 C213.7,1936.5 214.9,1936.2 219.1,1931 C223.4,1925.9 230.5,1917.1 236.2,1908.9 C241.9,1900.6 248.1,1890.7 253.2,1881.6 C258.4,1872.5 262.8,1862.4 266.9,1854.3 C271,1846.2 276.1,1836.5 278,1832.9 M278,1832.9 C278.7,1834.8 280.7,1839.1 282.3,1844 C283.8,1849 285.1,1855.7 287.4,1862.8 C289.6,1869.9 293.1,1879 295.9,1886.7 C298.7,1894.4 301.6,1902.6 304.4,1908.9 C307.3,1915.1 310.1,1919.7 313,1924.2 C315.8,1928.8 318.7,1932.5 321.5,1936.2 C324.3,1939.9 327.2,1943.6 330,1946.4 C332.9,1949.2 335.7,1951.2 338.6,1953.2 C341.4,1955.2 344,1956.5 347.1,1958.3 C350.2,1960.2 355.6,1963.3 357.3,1964.3" fill="none" stroke="#000" stroke-width="4.3" stroke-linejoin="round" stroke-linecap="round"/>
<path d="M361.6,1965.2 C362,1964 362.9,1960.9 364.2,1958.3 C365.4,1955.8 366.4,1952.9 369.3,1949.8 C372.1,1946.7 377.8,1943 381.2,1939.6 C384.6,1936.2 385.5,1935 389.7,1929.3 C394,1923.7 401.1,1914.6 406.8,1905.5 C412.5,1896.4 418.2,1885.5 423.9,1874.7 C429.6,1863.9 435.4,1853.1 440.9,1840.6 C446.5,1828.1 451.5,1814.5 457.1,1799.7 C462.6,1784.9 469,1765.5 474.1,1751.9 C479.2,1738.2 484.3,1726.3 487.8,1717.8 C491.2,1709.2 493.7,1703.6 494.9,1700.7 M494.9,1700.7 C495.6,1702.1 497.2,1703.3 498.9,1709.2 C500.5,1715.2 502.7,1727.7 504.8,1736.5 C507,1745.4 509.1,1753.3 511.7,1762.1 C514.2,1770.9 517.1,1779.5 520.2,1789.4 C523.3,1799.4 526.7,1811 530.4,1821.9 C534.1,1832.7 538.1,1843.5 542.4,1854.3 C546.6,1865.1 551.8,1877.6 556,1886.7 C560.3,1895.8 563.7,1901.8 568,1908.9 C572.2,1916 577.3,1923.4 581.6,1929.3 C585.9,1935.3 589.6,1940.4 593.6,1944.7 C597.5,1949 601.5,1952.4 605.5,1954.9 C609.5,1957.5 615.5,1959.2 617.4,1960.1" fill="none" stroke="#000" stroke-width="4.3" stroke-linejoin="round" stroke-linecap="round"/>
<path d="M622.6,1960.1 C623.4,1958.6 626,1953.8 627.7,1951.5 C629.4,1949.2 630,1949.2 632.8,1946.4 C635.6,1943.6 640.7,1939.5 644.7,1934.5 C648.8,1929.4 652.2,1923.6 657.1,1915.9 C662,1908.3 668.4,1899.7 674.1,1888.6 C679.8,1877.5 685.5,1863.3 691.2,1849.4 C696.9,1835.5 702.6,1819.5 708.2,1805 C713.9,1790.5 719.6,1776.3 725.3,1762.4 C731,1748.4 736.7,1735.6 742.4,1721.4 C748.1,1707.2 753.7,1691.3 759.4,1677.1 C765.1,1662.8 770.8,1649.6 776.5,1635.9 C782.2,1622.2 788.6,1606.4 793.6,1595 C798.5,1583.6 804.2,1572.2 806.4,1567.7 M806.4,1567.7 C806.3,1567.8 804.3,1561.1 806.2,1568.6 C808.1,1576.1 814,1597.5 817.6,1612.6 C821.2,1627.7 824.5,1644.5 827.9,1659.2 C831.3,1673.9 834.8,1687.6 838.3,1700.6 C841.8,1713.5 845.1,1725.7 848.6,1736.9 C852.1,1748.1 854.7,1755.9 859,1768 C863.3,1780.1 869.3,1795.6 874.5,1809.4 C879.7,1823.2 884.1,1837.1 890.1,1850.9 C896.1,1864.7 903.9,1880.2 910.8,1892.3 C917.7,1904.4 924.6,1913.9 931.5,1923.4 C938.4,1932.9 945.7,1942.4 952.2,1949.3 C958.7,1956.2 967.4,1962.2 970.4,1964.8" fill="none" stroke="#000" stroke-width="4.3" stroke-linejoin="round" stroke-linecap="round"/>
<path d="M971,1965 C971.4,1963.9 971.1,1960.8 973.2,1958.2 C975.3,1955.6 979.3,1953.3 983.4,1949.4 C987.5,1945.5 992.1,1942.1 998,1934.8 C1003.9,1927.5 1012.6,1914.3 1018.5,1905.5 C1024.3,1896.7 1028.2,1891.3 1033.1,1882.1 C1038,1872.8 1042.8,1861.7 1047.7,1850 C1052.6,1838.3 1057.5,1825.6 1062.4,1811.9 C1067.3,1798.2 1072.1,1782.2 1077,1768.1 C1081.9,1754 1086.7,1740.8 1091.6,1727.1 C1096.5,1713.4 1101.3,1699.4 1106.2,1686.2 C1111.1,1673 1116,1660.3 1120.9,1648.1 C1125.8,1635.9 1130.6,1624.2 1135.5,1613 C1140.4,1601.8 1145.2,1590.7 1150.1,1580.9 C1155,1571.2 1159.8,1562.8 1164.7,1554.5 C1169.6,1546.2 1174.5,1540.3 1179.4,1531.1 C1184.3,1521.8 1189.1,1507.8 1194,1499 C1198.9,1490.2 1203.7,1484.3 1208.6,1478.5 C1213.5,1472.7 1218.8,1467.3 1223.2,1463.9 C1227.6,1460.5 1232,1458.7 1234.9,1458 C1237.8,1457.3 1238.8,1458.5 1240.8,1459.5 C1242.8,1460.5 1244.6,1461 1246.6,1463.9 C1248.5,1466.8 1250,1471.2 1252.5,1477 C1255,1482.8 1258.4,1490 1261.3,1499 C1264.2,1508 1267.6,1519.9 1270,1531.1 C1272.4,1542.3 1274.2,1553 1275.9,1566.2 C1277.6,1579.4 1279.1,1595.5 1280.3,1610.1 C1281.5,1624.7 1282.5,1636.9 1283.2,1654 C1283.9,1671.1 1284.4,1688.1 1284.7,1712.5 C1285,1736.9 1285,1771.9 1285.2,1800.2 C1285.4,1828.5 1285.5,1865 1286.1,1882.1 C1286.7,1899.2 1287.3,1897.2 1289,1902.6 C1290.7,1908 1292.7,1911.6 1296.4,1914.3 C1300.1,1917 1303.7,1917.2 1311,1918.7 C1318.3,1920.2 1330.5,1922.1 1340.2,1923.1 C1350,1924.1 1358.3,1924.1 1369.5,1924.5 C1380.7,1924.9 1401.2,1925.2 1407.5,1925.4" fill="none" stroke="#000" stroke-width="4.3" stroke-linejoin="round" stroke-linecap="round"/>
</g>
<rect x="197.5" y="1263" width="161.3" height="698.4" fill="#CFDBEF" fill-opacity="0.5"/>
<rect x="361.9" y="1263" width="254" height="698.4" fill="#D1E5C5" fill-opacity="0.5"/>
<rect x="618.5" y="1263" width="350.4" height="698.4" fill="#FDC5C7" fill-opacity="0.5"/>
<rect x="972.9" y="1263" width="467.7" height="698.4" fill="#FDEFC1" fill-opacity="0.5"/>
<rect x="192.5" y="1259.9" width="1250.2" height="706" fill="none" stroke="#000" stroke-width="3.2"/>
<line x1="222.5" y1="1956.6" x2="282.3" y2="1778.3" stroke="#FF0000" stroke-width="6" stroke-dasharray="24.3 16.8" stroke-dashoffset="0"/>
<line x1="366.7" y1="1941.3" x2="427.3" y2="1766.4" stroke="#FF0000" stroke-width="6" stroke-dasharray="24.3 16.8" stroke-dashoffset="0"/>
<line x1="617.4" y1="1848.3" x2="694.6" y2="1637.6" stroke="#FF0000" stroke-width="6" stroke-dasharray="24.3 16.8" stroke-dashoffset="0"/>
<line x1="721.9" y1="1724" x2="800.4" y2="1513.9" stroke="#FF0000" stroke-width="6" stroke-dasharray="24.3 16.8" stroke-dashoffset="0"/>
<line x1="962.3" y1="1636.8" x2="1037.3" y2="1435.5" stroke="#FF0000" stroke-width="6" stroke-dasharray="24.3 16.8" stroke-dashoffset="0"/>
<line x1="1072.3" y1="1467.9" x2="1147.3" y2="1265.6" stroke="#FF0000" stroke-width="6" stroke-dasharray="24.3 16.8" stroke-dashoffset="0"/>
<line x1="341.1" y1="1954.1" x2="264.3" y2="1750.2" stroke="#00B050" stroke-width="6" stroke-dasharray="24.3 16.8" stroke-dashoffset="0"/>
<line x1="632.8" y1="1877.3" x2="483.5" y2="1673.8" stroke="#00B050" stroke-width="6" stroke-dasharray="24.3 16.8" stroke-dashoffset="0"/>
<line x1="995.5" y1="1633.4" x2="768" y2="1445.5" stroke="#00B050" stroke-width="6" stroke-dasharray="24.3 16.8" stroke-dashoffset="0"/>
<line x1="392.3" y1="1835.5" x2="488.6" y2="1698.2" stroke="#000" stroke-width="3.4" stroke-dasharray="9 5" stroke-dashoffset="0"/>
<line x1="232.9" y1="1295" x2="338.6" y2="1295" stroke="#FF0000" stroke-width="6" stroke-dasharray="23.5 17.6" stroke-dashoffset="0"/>
<line x1="232.9" y1="1334" x2="338.6" y2="1334" stroke="#00B050" stroke-width="6" stroke-dasharray="23.5 17.6" stroke-dashoffset="0"/>
<ellipse cx="706.4" cy="1715.2" rx="25.2" ry="27.2" fill="none" stroke="#000" stroke-width="4.2"/>
<ellipse cx="802.9" cy="1510.8" rx="38.9" ry="42" fill="none" stroke="#000" stroke-width="4.2"/>
<ellipse cx="1037.8" cy="1485.8" rx="23.2" ry="25.2" fill="none" stroke="#000" stroke-width="4.2"/>
<ellipse cx="1076.6" cy="1439.9" rx="24.4" ry="26.9" fill="none" stroke="#000" stroke-width="4.2"/>
<ellipse cx="1118.1" cy="1329.8" rx="24.6" ry="26.8" fill="none" stroke="#000" stroke-width="4.2"/>
<line x1="395.7" y1="1698.2" x2="426.7" y2="1746.2" stroke="#000" stroke-width="3.3"/><polygon points="437.5,1763 416.3,1750.5 434.8,1738.5" fill="#000"/>
<line x1="506.2" y1="1607.9" x2="606.4" y2="1820.8" stroke="#000" stroke-width="3.3"/><polygon points="614.9,1838.9 595.6,1823.7 615.5,1814.3" fill="#000"/>
<line x1="755.3" y1="1416" x2="710.9" y2="1666.2" stroke="#000" stroke-width="3.3"/><polygon points="707.4,1685.9 700.4,1662.3 722.1,1666.2" fill="#000"/>
<line x1="805.2" y1="1416.7" x2="803.9" y2="1447.9" stroke="#000" stroke-width="3.3"/><polygon points="803,1467.9 793,1445.4 814.9,1446.4" fill="#000"/>
<line x1="946.5" y1="1375.6" x2="1071.4" y2="1340.6" stroke="#000" stroke-width="3.3"/><polygon points="1090.7,1335.2 1072.5,1351.7 1066.5,1330.5" fill="#000"/>
<line x1="934.7" y1="1405.7" x2="1030.3" y2="1433.3" stroke="#000" stroke-width="3.3"/><polygon points="1049.5,1438.9 1025.3,1443.4 1031.4,1422.2" fill="#000"/>
<line x1="931.5" y1="1423.9" x2="995.8" y2="1461.3" stroke="#000" stroke-width="3.3"/><polygon points="1013.1,1471.4 988.6,1469.8 999.6,1450.8" fill="#000"/>
<line x1="1202.1" y1="1321.7" x2="1148.5" y2="1289.3" stroke="#000" stroke-width="3.3"/><polygon points="1131.4,1279 1155.9,1281 1144.5,1299.8" fill="#000"/>
<line x1="1254.5" y1="1400.9" x2="1242.5" y2="1436.7" stroke="#000" stroke-width="3.3"/><polygon points="1236.2,1455.7 1232.7,1431.3 1253.6,1438.3" fill="#000"/>
</g>
<line x1="303.2" y1="949.2" x2="345.5" y2="949.3" stroke="#000" stroke-width="8.6"/><polygon points="369.5,949.4 343.5,962.1 343.5,936.6" fill="#000"/>
<line x1="453.4" y1="947.8" x2="512.5" y2="947.6" stroke="#000" stroke-width="8.6"/><polygon points="536.5,947.5 510.5,960.3 510.5,934.8" fill="#000"/>
<line x1="618.2" y1="947.7" x2="739" y2="945.7" stroke="#000" stroke-width="8.6"/><polygon points="763,945.3 737.2,958.5 736.8,933" fill="#000"/>
<line x1="854.7" y1="947.2" x2="1002.3" y2="947.2" stroke="#000" stroke-width="8.6"/><polygon points="1026.3,947.2 1000.3,960 1000.3,934.5" fill="#000"/>
<line x1="1128.8" y1="947.5" x2="1367" y2="947.5" stroke="#000" stroke-width="8.6"/><polygon points="1391,947.5 1365,960.2 1365,934.8" fill="#000"/>
<line x1="315.8" y1="1045.7" x2="345.5" y2="1045.8" stroke="#000" stroke-width="8.6"/><polygon points="369.5,1045.8 343.5,1058.5 343.5,1033" fill="#000"/>
<line x1="464.6" y1="1044.4" x2="506.3" y2="1044" stroke="#000" stroke-width="8.6"/><polygon points="530.3,1043.7 504.4,1056.7 504.2,1031.2" fill="#000"/>
<line x1="631.6" y1="1045" x2="739" y2="1042.2" stroke="#000" stroke-width="8.6"/><polygon points="763,1041.6 737.3,1055 736.7,1029.5" fill="#000"/>
<line x1="855.3" y1="1043.2" x2="1003.7" y2="1043.2" stroke="#000" stroke-width="8.6"/><polygon points="1027.7,1043.2 1001.7,1056 1001.7,1030.5" fill="#000"/>
<line x1="1129.6" y1="1043.8" x2="1368.1" y2="1043.8" stroke="#000" stroke-width="8.6"/><polygon points="1392.1,1043.8 1366.1,1056.5 1366.1,1031" fill="#000"/>
<line x1="347.4" y1="2142.5" x2="416.9" y2="2142.4" stroke="#000" stroke-width="8.6"/><polygon points="440.9,2142.4 414.9,2155.2 414.9,2129.7" fill="#000"/>
<line x1="548" y1="2140.7" x2="710.9" y2="2140.4" stroke="#000" stroke-width="8.6"/><polygon points="734.9,2140.4 708.9,2153.2 708.9,2127.7" fill="#000"/>
<line x1="843.9" y1="2140.6" x2="1137.7" y2="2140.4" stroke="#000" stroke-width="8.6"/><polygon points="1161.7,2140.4 1135.7,2153.2 1135.7,2127.7" fill="#000"/>
<line x1="347.4" y1="2239" x2="416.9" y2="2238.8" stroke="#000" stroke-width="8.6"/><polygon points="440.9,2238.7 414.9,2251.5 414.9,2226" fill="#000"/>
<line x1="547" y1="2236.7" x2="710.9" y2="2236.7" stroke="#000" stroke-width="8.6"/><polygon points="734.9,2236.7 708.9,2249.4 708.9,2223.9" fill="#000"/>
<line x1="843.9" y1="2236.8" x2="1137.7" y2="2236.3" stroke="#000" stroke-width="8.6"/><polygon points="1161.7,2236.3 1135.7,2249.1 1135.7,2223.6" fill="#000"/>
<text x="89.5" y="74.7" font-family="Carlito, 'Liberation Sans', sans-serif" font-size="43.50" fill="#0070C0">20</text>
<text x="89.5" y="146.1" font-family="Carlito, 'Liberation Sans', sans-serif" font-size="43.50" fill="#0070C0">15</text>
<text x="89.5" y="216.9" font-family="Carlito, 'Liberation Sans', sans-serif" font-size="43.50" fill="#0070C0">10</text>
<text x="111.3" y="287.9" font-family="Carlito, 'Liberation Sans', sans-serif" font-size="43.50" fill="#0070C0">5</text>
<text x="111.3" y="358.7" font-family="Carlito, 'Liberation Sans', sans-serif" font-size="43.50" fill="#0070C0">0</text>
<text x="96.9" y="429.9" font-family="Carlito, 'Liberation Sans', sans-serif" font-size="43.50" fill="#0070C0">-5</text>
<text x="75.2" y="500.9" font-family="Carlito, 'Liberation Sans', sans-serif" font-size="43.50" fill="#0070C0">-10</text>
<text x="75.2" y="572.1" font-family="Carlito, 'Liberation Sans', sans-serif" font-size="43.50" fill="#0070C0">-15</text>
<text x="75.2" y="642.7" font-family="Carlito, 'Liberation Sans', sans-serif" font-size="43.50" fill="#0070C0">-20</text>
<text x="75.2" y="713.9" font-family="Carlito, 'Liberation Sans', sans-serif" font-size="43.50" fill="#0070C0">-25</text>
<text x="75.2" y="784.7" font-family="Carlito, 'Liberation Sans', sans-serif" font-size="43.50" fill="#0070C0">-30</text>
<text x="1554.7" y="785.4" font-family="Carlito, 'Liberation Sans', sans-serif" font-size="43.50" fill="#000">0.0</text>
<text x="1554.7" y="706.5" font-family="Carlito, 'Liberation Sans', sans-serif" font-size="43.50" fill="#000">0.2</text>
<text x="1554.7" y="627.6" font-family="Carlito, 'Liberation Sans', sans-serif" font-size="43.50" fill="#000">0.4</text>
<text x="1554.7" y="548.7" font-family="Carlito, 'Liberation Sans', sans-serif" font-size="43.50" fill="#000">0.6</text>
<text x="1554.7" y="469.8" font-family="Carlito, 'Liberation Sans', sans-serif" font-size="43.50" fill="#000">0.8</text>
<text x="1552.5" y="391.2" font-family="Carlito, 'Liberation Sans', sans-serif" font-size="43.50" fill="#000">1.0</text>
<text x="1552.5" y="312.5" font-family="Carlito, 'Liberation Sans', sans-serif" font-size="43.50" fill="#000">1.2</text>
<text x="1552.5" y="233.6" font-family="Carlito, 'Liberation Sans', sans-serif" font-size="43.50" fill="#000">1.4</text>
<text x="1552.5" y="154.5" font-family="Carlito, 'Liberation Sans', sans-serif" font-size="43.50" fill="#000">1.6</text>
<text x="1552.5" y="75.6" font-family="Carlito, 'Liberation Sans', sans-serif" font-size="43.50" fill="#000">1.8</text>
<text x="161.5" y="840.9" font-family="Carlito, 'Liberation Sans', sans-serif" font-size="43.50" fill="#000">0</text>
<text x="262.8" y="840.9" font-family="Carlito, 'Liberation Sans', sans-serif" font-size="43.50" fill="#000">40</text>
<text x="374.1" y="840.9" font-family="Carlito, 'Liberation Sans', sans-serif" font-size="43.50" fill="#000">80</text>
<text x="473.9" y="841.1" font-family="Carlito, 'Liberation Sans', sans-serif" font-size="43.50" fill="#000">120</text>
<text x="585.6" y="841.1" font-family="Carlito, 'Liberation Sans', sans-serif" font-size="43.50" fill="#000">160</text>
<text x="698.4" y="840.9" font-family="Carlito, 'Liberation Sans', sans-serif" font-size="43.50" fill="#000">200</text>
<text x="810.1" y="840.9" font-family="Carlito, 'Liberation Sans', sans-serif" font-size="43.50" fill="#000">240</text>
<text x="921.8" y="840.9" font-family="Carlito, 'Liberation Sans', sans-serif" font-size="43.50" fill="#000">280</text>
<text x="1033.4" y="840.9" font-family="Carlito, 'Liberation Sans', sans-serif" font-size="43.50" fill="#000">320</text>
<text x="1145.1" y="840.9" font-family="Carlito, 'Liberation Sans', sans-serif" font-size="43.50" fill="#000">360</text>
<text x="1257.5" y="840.9" font-family="Carlito, 'Liberation Sans', sans-serif" font-size="43.50" fill="#000">400</text>
<text x="1369.2" y="840.9" font-family="Carlito, 'Liberation Sans', sans-serif" font-size="43.50" fill="#000">440</text>
<text x="1480.9" y="840.9" font-family="Carlito, 'Liberation Sans', sans-serif" font-size="43.50" fill="#000">480</text>
<text x="50" y="659.6" font-family="Carlito, 'Liberation Sans', sans-serif" font-size="45.07" fill="#0070C0" transform="rotate(-90 50 659.6)">Piezo-resistivity, ΔR/R<tspan font-size="66%" dy="0.36em">0</tspan><tspan dy="-0.2376em"> %</tspan></text>
<text x="1664" y="498.1" font-family="Carlito, 'Liberation Sans', sans-serif" font-size="42.61" fill="#000" transform="rotate(-90 1664 498.1)">Load, kN</text>
<text x="749.4" y="908.6" font-family="Carlito, 'Liberation Sans', sans-serif" font-size="45.90" fill="#000">Time (sec)</text>
<text x="181.9" y="32.9" font-family="Carlito, 'Liberation Sans', sans-serif" font-size="32.82" fill="#000">Cycle 1</text>
<text x="314" y="32.9" font-family="Carlito, 'Liberation Sans', sans-serif" font-size="32.84" fill="#000">Cycle 2</text>
<text x="489.5" y="32.9" font-family="Carlito, 'Liberation Sans', sans-serif" font-size="32.90" fill="#000">Cycle 3</text>
<text x="726.8" y="31.6" font-family="Carlito, 'Liberation Sans', sans-serif" font-size="32.61" fill="#000">Cycle 4</text>
<text x="1009.6" y="28.9" font-family="Carlito, 'Liberation Sans', sans-serif" font-size="33.07" fill="#000">Cycle 5</text>
<text x="1337.4" y="26.2" font-family="Carlito, 'Liberation Sans', sans-serif" font-size="32.66" fill="#000">Cycle 6</text>
<text x="281.9" y="424.1" font-family="'Liberation Serif', serif" font-size="34.58" font-style="italic" fill="#000">ε</text>
<text x="297.7" y="432" font-family="Caladea, 'Liberation Serif', serif" font-size="25.91" font-style="italic" fill="#000">C</text>
<text x="120.9" y="942.4" font-family="'Liberation Serif', serif" font-size="37.04" font-style="italic" fill="#000">δ</text>
<text x="140.3" y="951.6" font-family="Caladea, 'Liberation Serif', serif" font-size="34.51" font-style="italic" fill="#000">max</text>
<text x="207.5" y="963.4" font-family="Caladea, 'Liberation Serif', serif" font-size="40.00" fill="#000">:</text>
<text x="227.4" y="962.5" font-family="Carlito, 'Liberation Sans', sans-serif" font-size="41.12" fill="#000">0.11</text>
<text x="372.7" y="962.5" font-family="Carlito, 'Liberation Sans', sans-serif" font-size="39.82" fill="#000">0.20</text>
<text x="539.7" y="959.8" font-family="Carlito, 'Liberation Sans', sans-serif" font-size="40.48" fill="#000">0.28</text>
<text x="766" y="957.6" font-family="Carlito, 'Liberation Sans', sans-serif" font-size="39.40" fill="#000">0.37</text>
<text x="1032.8" y="956" font-family="Carlito, 'Liberation Sans', sans-serif" font-size="40.72" fill="#000">0.48</text>
<text x="1401.9" y="954.2" font-family="Carlito, 'Liberation Sans', sans-serif" font-size="39.08" fill="#000">0.69 (failure)</text>
<text x="30.1" y="1047.9" font-family="Caladea, 'Liberation Serif', serif" font-size="40.15" font-style="italic" fill="#000">F</text>
<text x="44.7" y="1055.7" font-family="Caladea, 'Liberation Serif', serif" font-size="34.38" font-style="italic" fill="#000">max</text>
<text x="107.1" y="1055.4" font-family="Caladea, 'Liberation Serif', serif" font-size="54.85" fill="#000">/</text>
<text x="125.4" y="1047.5" font-family="'Liberation Serif', serif" font-size="38.73" font-style="italic" fill="#000">δ</text>
<text x="145.3" y="1055.7" font-family="Caladea, 'Liberation Serif', serif" font-size="34.75" font-style="italic" fill="#000">max</text>
<text x="208.5" y="1058.2" font-family="Caladea, 'Liberation Serif', serif" font-size="40.00" fill="#000">:</text>
<text x="54.6" y="1091.1" font-family="Caladea, 'Liberation Serif', serif" font-size="39.27" fill="#000">(N/mm)</text>
<text x="229.3" y="1058.5" font-family="Carlito, 'Liberation Sans', sans-serif" font-size="38.50" fill="#000">2727</text>
<text x="373.6" y="1057.7" font-family="Carlito, 'Liberation Sans', sans-serif" font-size="40.00" fill="#000">3000</text>
<text x="540.7" y="1056.2" font-family="Carlito, 'Liberation Sans', sans-serif" font-size="39.84" fill="#000">3214</text>
<text x="766.9" y="1054" font-family="Carlito, 'Liberation Sans', sans-serif" font-size="39.58" fill="#000">3243</text>
<text x="1033.1" y="1051.9" font-family="Carlito, 'Liberation Sans', sans-serif" font-size="40.58" fill="#000">3125</text>
<text x="1403" y="1052.3" font-family="Carlito, 'Liberation Sans', sans-serif" font-size="39.03" fill="#000">2413 (failure)</text>
<text x="758.1" y="1111.2" font-family="Carlito, 'Liberation Sans', sans-serif" font-size="44.35" font-weight="700" fill="#000">(a)</text>
<text x="131" y="1978.7" font-family="Carlito, 'Liberation Sans', sans-serif" font-size="43.50" fill="#0070C0">0</text>
<text x="87.5" y="1861.3" font-family="Carlito, 'Liberation Sans', sans-serif" font-size="43.50" fill="#0070C0">100</text>
<text x="87.5" y="1743.4" font-family="Carlito, 'Liberation Sans', sans-serif" font-size="43.50" fill="#0070C0">200</text>
<text x="87.5" y="1625.7" font-family="Carlito, 'Liberation Sans', sans-serif" font-size="43.50" fill="#0070C0">300</text>
<text x="87.5" y="1508" font-family="Carlito, 'Liberation Sans', sans-serif" font-size="43.50" fill="#0070C0">400</text>
<text x="87.5" y="1390.4" font-family="Carlito, 'Liberation Sans', sans-serif" font-size="43.50" fill="#0070C0">500</text>
<text x="87.5" y="1272.7" font-family="Carlito, 'Liberation Sans', sans-serif" font-size="43.50" fill="#0070C0">600</text>
<text x="1484.2" y="1978.3" font-family="Carlito, 'Liberation Sans', sans-serif" font-size="43.50" fill="#000">0.0</text>
<text x="1484.2" y="1890.1" font-family="Carlito, 'Liberation Sans', sans-serif" font-size="43.50" fill="#000">0.2</text>
<text x="1484.2" y="1801.8" font-family="Carlito, 'Liberation Sans', sans-serif" font-size="43.50" fill="#000">0.4</text>
<text x="1484.2" y="1713.6" font-family="Carlito, 'Liberation Sans', sans-serif" font-size="43.50" fill="#000">0.6</text>
<text x="1484.2" y="1625.3" font-family="Carlito, 'Liberation Sans', sans-serif" font-size="43.50" fill="#000">0.8</text>
<text x="1482" y="1537.3" font-family="Carlito, 'Liberation Sans', sans-serif" font-size="43.50" fill="#000">1.0</text>
<text x="1482" y="1449.2" font-family="Carlito, 'Liberation Sans', sans-serif" font-size="43.50" fill="#000">1.2</text>
<text x="1482" y="1361" font-family="Carlito, 'Liberation Sans', sans-serif" font-size="43.50" fill="#000">1.4</text>
<text x="1482" y="1272.5" font-family="Carlito, 'Liberation Sans', sans-serif" font-size="43.50" fill="#000">1.6</text>
<text x="181.6" y="2035.1" font-family="Carlito, 'Liberation Sans', sans-serif" font-size="43.50" fill="#000">0</text>
<text x="295.8" y="2035.3" font-family="Carlito, 'Liberation Sans', sans-serif" font-size="43.50" fill="#000">25</text>
<text x="420.4" y="2035.1" font-family="Carlito, 'Liberation Sans', sans-serif" font-size="43.50" fill="#000">50</text>
<text x="545.2" y="2035.3" font-family="Carlito, 'Liberation Sans', sans-serif" font-size="43.50" fill="#000">75</text>
<text x="658.9" y="2035.3" font-family="Carlito, 'Liberation Sans', sans-serif" font-size="43.50" fill="#000">100</text>
<text x="783.9" y="2035.5" font-family="Carlito, 'Liberation Sans', sans-serif" font-size="43.50" fill="#000">125</text>
<text x="908.9" y="2035.3" font-family="Carlito, 'Liberation Sans', sans-serif" font-size="43.50" fill="#000">150</text>
<text x="1033.9" y="2035.5" font-family="Carlito, 'Liberation Sans', sans-serif" font-size="43.50" fill="#000">175</text>
<text x="1160" y="2035.1" font-family="Carlito, 'Liberation Sans', sans-serif" font-size="43.50" fill="#000">200</text>
<text x="1285.1" y="2035.3" font-family="Carlito, 'Liberation Sans', sans-serif" font-size="43.50" fill="#000">225</text>
<text x="1410.1" y="2035.1" font-family="Carlito, 'Liberation Sans', sans-serif" font-size="43.50" fill="#000">250</text>
<text x="36.5" y="1874.8" font-family="Carlito, 'Liberation Sans', sans-serif" font-size="44.91" fill="#0070C0" transform="rotate(-90 36.5 1874.8)">Piezo-resistivity, ΔR/R<tspan font-size="66%" dy="0.36em">0</tspan><tspan dy="-0.2376em"> %</tspan></text>
<text x="1591.4" y="1693.8" font-family="Carlito, 'Liberation Sans', sans-serif" font-size="42.61" fill="#000" transform="rotate(-90 1591.4 1693.8)">Load, kN</text>
<text x="713.2" y="2097.4" font-family="Carlito, 'Liberation Sans', sans-serif" font-size="45.90" fill="#000">Time (sec)</text>
<text x="222.2" y="1238.9" font-family="Carlito, 'Liberation Sans', sans-serif" font-size="33.29" fill="#000">Cycle 1</text>
<text x="429.9" y="1238.9" font-family="Carlito, 'Liberation Sans', sans-serif" font-size="32.98" fill="#000">Cycle 2</text>
<text x="755" y="1236.9" font-family="Carlito, 'Liberation Sans', sans-serif" font-size="32.40" fill="#000">Cycle 3</text>
<text x="1184" y="1234.9" font-family="Carlito, 'Liberation Sans', sans-serif" font-size="32.51" fill="#000">Cycle 4</text>
<text x="347.4" y="1307.2" font-family="Carlito, 'Liberation Sans', sans-serif" font-size="34.25" fill="#000">Loading initial slope</text>
<text x="344.9" y="1351.4" font-family="Carlito, 'Liberation Sans', sans-serif" font-size="34.69" fill="#000">Unloading initial slope</text>
<text x="707" y="1364.3" font-family="Carlito, 'Liberation Sans', sans-serif" font-size="39.35" fill="#000">Progressive</text>
<text x="670.1" y="1411.5" font-family="Carlito, 'Liberation Sans', sans-serif" font-size="40.22" fill="#000">adhesion failure</text>
<text x="345.1" y="1527" font-family="Carlito, 'Liberation Sans', sans-serif" font-size="39.55" fill="#000">Baseline (unloaded)</text>
<text x="345.5" y="1573.7" font-family="Carlito, 'Liberation Sans', sans-serif" font-size="40.87" fill="#000">resistance</text>
<text x="236.1" y="1648.2" font-family="Carlito, 'Liberation Sans', sans-serif" font-size="38.99" fill="#000">Slope</text>
<text x="238" y="1695.7" font-family="Carlito, 'Liberation Sans', sans-serif" font-size="40.35" fill="#000">reduction</text>
<text x="1219.6" y="1332.1" font-family="Carlito, 'Liberation Sans', sans-serif" font-size="39.33" fill="#000">Ultimate</text>
<text x="1159.1" y="1380.2" font-family="Carlito, 'Liberation Sans', sans-serif" font-size="39.98" fill="#000">adhesion failure</text>
<text x="1392.1" y="1586.4" font-family="Carlito, 'Liberation Sans', sans-serif" font-size="38.60" fill="#000" transform="rotate(90 1392.1 1586.4)"><tspan font-weight="700">Thin</tspan> adhesive bond</text>
<text x="1345.1" y="1587.9" font-family="Carlito, 'Liberation Sans', sans-serif" font-size="38.94" fill="#000" transform="rotate(90 1345.1 1587.9)">(0.18mm thickness)</text>
<text x="124.8" y="2133" font-family="'Liberation Serif', serif" font-size="37.32" font-style="italic" fill="#000">δ</text>
<text x="144.6" y="2140.7" font-family="Caladea, 'Liberation Serif', serif" font-size="35.00" font-style="italic" fill="#000">max</text>
<text x="124.3" y="2178.8" font-family="Caladea, 'Liberation Serif', serif" font-size="39.30" fill="#000">(mm)</text>
<text x="236.1" y="2154" font-family="Caladea, 'Liberation Serif', serif" font-size="40.00" fill="#000">:</text>
<text x="255" y="2153.6" font-family="Carlito, 'Liberation Sans', sans-serif" font-size="40.30" fill="#000">0.06</text>
<text x="455.8" y="2152.9" font-family="Carlito, 'Liberation Sans', sans-serif" font-size="39.82" fill="#000">0.10</text>
<text x="753.6" y="2152" font-family="Carlito, 'Liberation Sans', sans-serif" font-size="39.94" fill="#000">0.14</text>
<text x="1175.7" y="2150" font-family="Carlito, 'Liberation Sans', sans-serif" font-size="38.82" fill="#000">0.20 (failure)</text>
<text x="57.4" y="2239.4" font-family="Caladea, 'Liberation Serif', serif" font-size="39.38" font-style="italic" fill="#000">F</text>
<text x="71.5" y="2246.7" font-family="Caladea, 'Liberation Serif', serif" font-size="35.00" font-style="italic" fill="#000">max</text>
<text x="133.2" y="2246.2" font-family="Caladea, 'Liberation Serif', serif" font-size="52.58" fill="#000">/</text>
<text x="153.2" y="2239" font-family="'Liberation Serif', serif" font-size="37.32" font-style="italic" fill="#000">δ</text>
<text x="173.1" y="2246.7" font-family="Caladea, 'Liberation Serif', serif" font-size="33.27" font-style="italic" fill="#000">max</text>
<text x="236.1" y="2250" font-family="Caladea, 'Liberation Serif', serif" font-size="40.00" fill="#000">:</text>
<text x="81.4" y="2283.9" font-family="Caladea, 'Liberation Serif', serif" font-size="39.30" fill="#000">(N/mm)</text>
<text x="254.2" y="2249.6" font-family="Carlito, 'Liberation Sans', sans-serif" font-size="39.95" fill="#000">5000</text>
<text x="455.1" y="2249.6" font-family="Carlito, 'Liberation Sans', sans-serif" font-size="40.47" fill="#000">6000</text>
<text x="753" y="2248.6" font-family="Carlito, 'Liberation Sans', sans-serif" font-size="40.42" fill="#000">6429</text>
<text x="1174.3" y="2245.5" font-family="Carlito, 'Liberation Sans', sans-serif" font-size="38.91" fill="#000">5650 (failure)</text>
<text x="745.8" y="2298.5" font-family="Carlito, 'Liberation Sans', sans-serif" font-size="44.47" font-weight="700" fill="#000">(b)</text>
<clipPath id="clipmm"><rect x="100" y="900" width="150" height="87.8"/></clipPath>
<g clip-path="url(#clipmm)"><text x="119.2" y="987.9" font-family="Caladea, 'Liberation Serif', serif" font-size="40.00" fill="#000">(mm)</text></g>
</svg>
</body></html>
